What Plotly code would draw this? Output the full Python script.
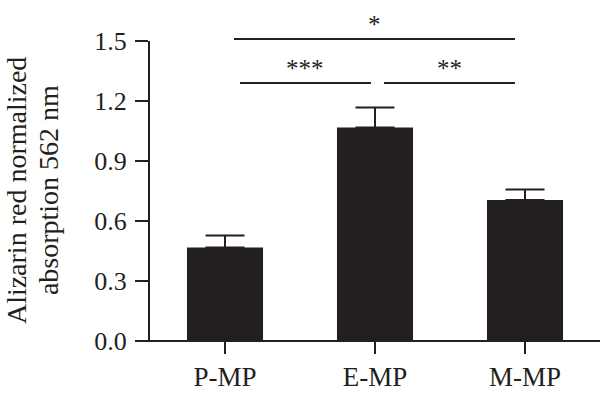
import plotly.graph_objects as go

categories = ["P-MP", "E-MP", "M-MP"]
means = [0.468, 1.068, 0.705]
errors = [0.059, 0.10, 0.053]
y_ticks = [0.0, 0.3, 0.6, 0.9, 1.2, 1.5]
y_tick_labels = ["0.0", "0.3", "0.6", "0.9", "1.2", "1.5"]
y_title_lines = ["Alizarin red normalized", "absorption 562 nm"]

# significance brackets: (x0, x1, y_paper, label)
sig_x0 = [0.06, 0.10, 1.06]
sig_x1 = [1.933, 0.973, 1.933]
sig_y = [1.0067, 0.86, 0.86]
sig_labels = ["*", "***", "**"]

INK = "#231f20"
FONT = "Liberation Serif"

fig = go.Figure()
fig.add_trace(go.Bar(
    x=[0, 1, 2], y=means, width=0.507,
    marker=dict(color=INK, line=dict(width=0)),
    error_y=dict(type="data", symmetric=False, array=errors,
                 arrayminus=[0, 0, 0], color=INK, thickness=2, width=19.5),
))

shapes = []
# x axis line extended to the left of y axis
shapes.append(dict(type="line", xref="paper", yref="paper", x0=-0.029, x1=1.0,
                   y0=0, y1=0, line=dict(color=INK, width=2)))
annotations = []
for x0, x1, yp, lab in zip(sig_x0, sig_x1, sig_y, sig_labels):
    shapes.append(dict(type="line", xref="x", yref="paper", x0=x0, x1=x1,
                       y0=yp, y1=yp, line=dict(color=INK, width=2)))
    annotations.append(dict(x=(x0 + x1) / 2, y=yp, xref="x", yref="paper",
                            text=lab, showarrow=False, xanchor="center",
                            yanchor="bottom", yshift=-1,
                            font=dict(family=FONT, size=25, color=INK)))

for xp, line in zip([-0.2978, -0.2267], y_title_lines):
    annotations.append(dict(x=xp, y=0.503, xref="paper", yref="paper",
                            text=line, textangle=-90, showarrow=False,
                            xanchor="center", yanchor="middle",
                            font=dict(family=FONT, size=28, color=INK)))

fig.update_layout(
    width=600, height=393,
    margin=dict(l=150, r=0, t=41, b=52),
    plot_bgcolor="white", paper_bgcolor="white",
    showlegend=False,
    shapes=shapes, annotations=annotations,
    xaxis=dict(range=[-0.5, 2.5], tickmode="array", tickvals=[0, 1, 2],
               ticktext=categories, ticks="outside", ticklen=12, tickwidth=2,
               tickcolor=INK, showline=False, showgrid=False, zeroline=False,
               tickfont=dict(family=FONT, size=27, color=INK)),
    yaxis=dict(range=[0, 1.5], tickmode="array", tickvals=y_ticks,
               ticktext=y_tick_labels, ticks="outside", ticklen=13, tickwidth=2,
               tickcolor=INK, showline=True, linecolor=INK, linewidth=2,
               showgrid=False, zeroline=False, ticklabelstandoff=3,
               tickfont=dict(family=FONT, size=26, color=INK)),
)
fig.write_html("out.html", config={"displayModeBar": False},
               post_script="document.body.style.margin='0';document.body.style.overflow='hidden';")
